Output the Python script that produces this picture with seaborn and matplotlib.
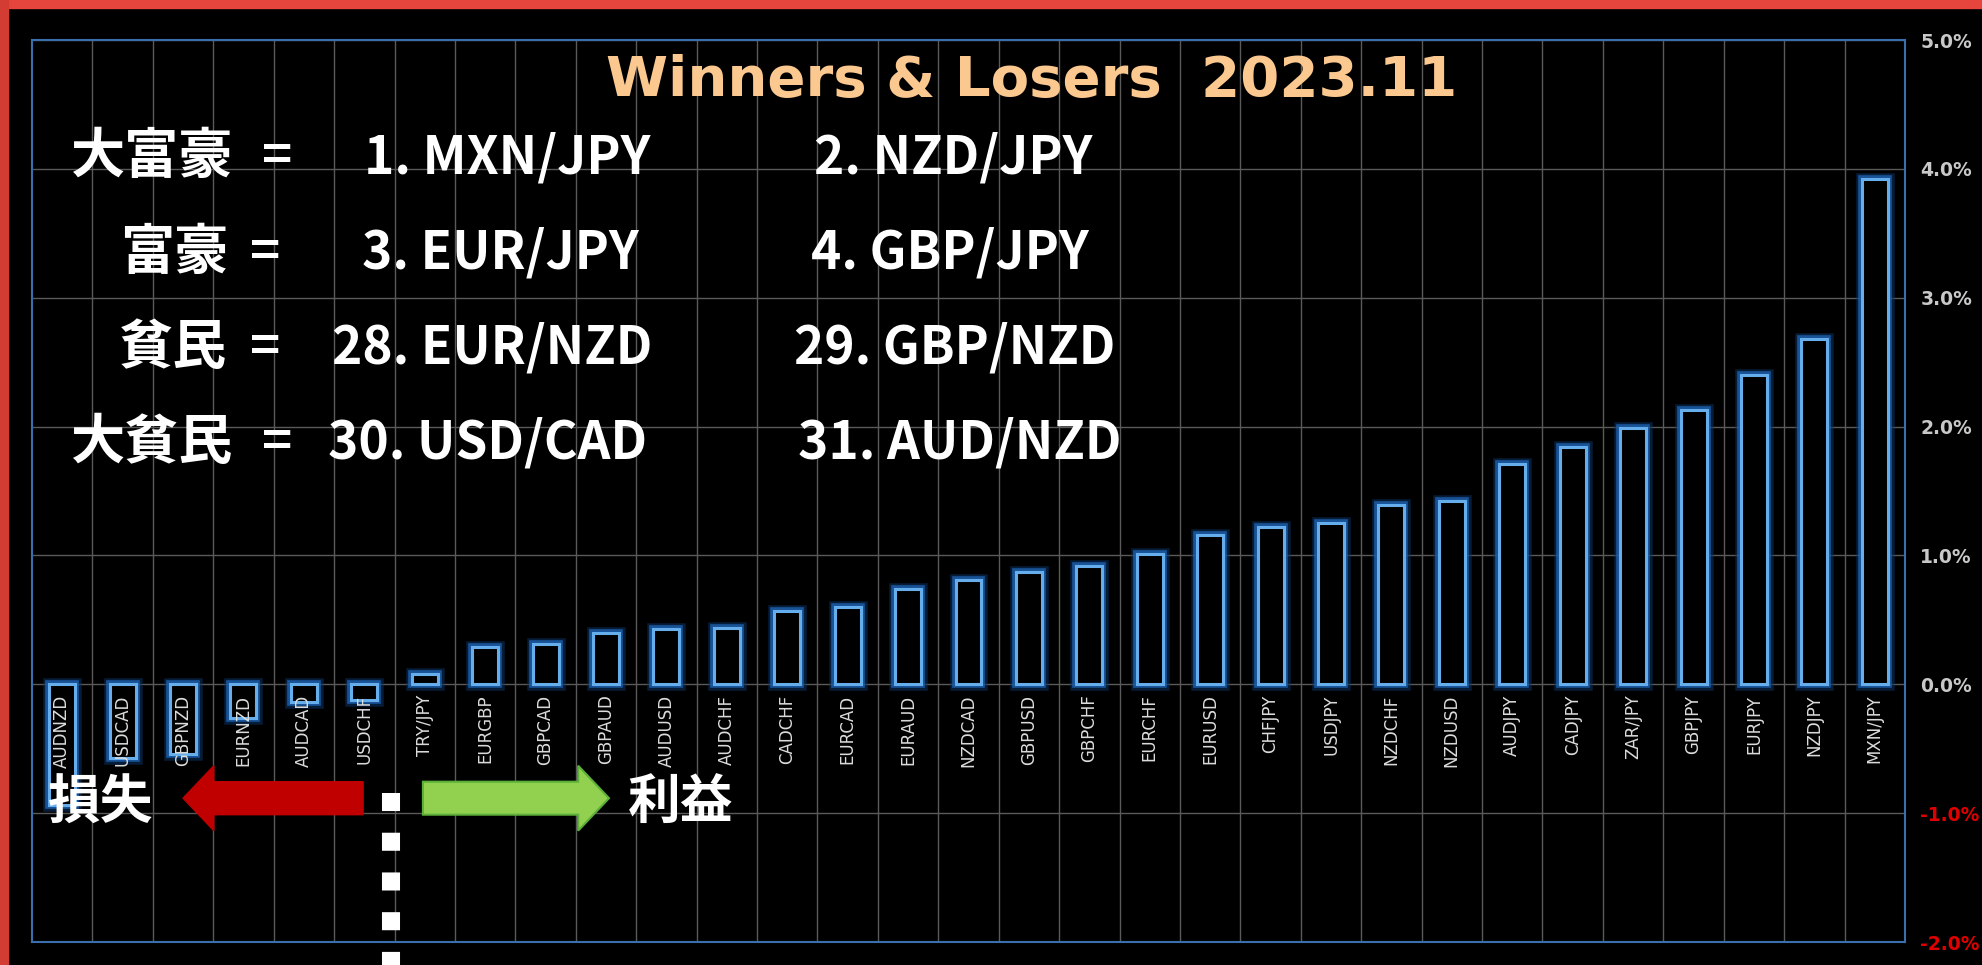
import numpy as np
import seaborn as sns
import matplotlib.pyplot as plt
import matplotlib.patches as mpatches
import matplotlib.patheffects as pe
from matplotlib.ticker import FuncFormatter

# monthly change of each pair (%), sorted low -> high
pairs = ["AUDNZD", "USDCAD", "GBPNZD", "EURNZD", "AUDCAD", "USDCHF", "TRY/JPY",
         "EURGBP", "GBPCAD", "GBPAUD", "AUDUSD", "AUDCHF", "CADCHF", "EURCAD",
         "EURAUD", "NZDCAD", "GBPUSD", "GBPCHF", "EURCHF", "EURUSD", "CHFJPY",
         "USDJPY", "NZDCHF", "NZDUSD", "AUDJPY", "CADJPY", "ZAR/JPY", "GBPJPY",
         "EURJPY", "NZDJPY", "MXN/JPY"]
changes = [-0.94, -0.57, -0.54, -0.26, -0.14, -0.12, 0.08,
           0.29, 0.31, 0.40, 0.43, 0.44, 0.57, 0.60,
           0.74, 0.81, 0.87, 0.92, 1.01, 1.16, 1.22,
           1.25, 1.39, 1.42, 1.71, 1.84, 1.99, 2.13,
           2.40, 2.68, 3.92]
yticks = [-2, -1, 0, 1, 2, 3, 4, 5]

title = "Winners & Losers  2023.11"
rank_names = ["大富豪", "富豪", "貧民", "大貧民"]
rank_first = ["1. MXN/JPY", "3. EUR/JPY", "28. EUR/NZD", "30. USD/CAD"]
rank_second = ["2. NZD/JPY", "4. GBP/JPY", "29. GBP/NZD", "31. AUD/NZD"]

W, H = 1982, 965

sns.set_style("dark")
plt.rcParams['font.family'] = ['Noto Sans CJK JP', 'DejaVu Sans']

fig = plt.figure(figsize=(W / 100, H / 100), dpi=100, facecolor="black")
ax = fig.add_axes([32 / W, 1 - 942 / H, (1905 - 32) / W, (942 - 40) / H])
ax.set_facecolor("black")

sns.barplot(x=pairs, y=changes, order=pairs, width=0.43, ax=ax, zorder=3)

# hollow glowing bars
glow = [pe.Stroke(linewidth=9, foreground="#0b3466", alpha=0.55),
        pe.Stroke(linewidth=5.5, foreground="#1d62b0", alpha=0.8),
        pe.Normal()]
for bar in ax.patches:
    bar.set_facecolor("black")
    bar.set_edgecolor("#66adec")
    bar.set_linewidth(2.2)
    bar.set_path_effects(glow)

ax.set_xlim(-0.5, len(pairs) - 0.5)
ax.set_ylim(-2, 5)

# grid
ax.set_axisbelow(True)
ax.set_yticks(yticks)
ax.yaxis.grid(True, color="#5a5a5a", lw=1)
ax.set_xticks(np.arange(0.5, len(pairs) - 1, 1), minor=True)
ax.xaxis.grid(True, which="minor", color="#5a5a5a", lw=1)
ax.xaxis.grid(False, which="major")
ax.tick_params(axis="x", which="both", length=0, labelbottom=False)
ax.set_xlabel("")

for s in ax.spines.values():
    s.set_visible(True)
    s.set_color("#3a6fae")
    s.set_linewidth(1.5)

# right-hand percent axis
ax.yaxis.tick_right()
ax.yaxis.set_major_formatter(FuncFormatter(lambda v, p: f"{v:.1f}%"))
ax.tick_params(axis="y", length=0, pad=11)
for lab, v in zip(ax.get_yticklabels(), yticks):
    lab.set_family("DejaVu Sans")
    lab.set_fontsize(13.5)
    lab.set_fontweight("bold")
    lab.set_color("#e00000" if v < 0 else "#c8c8c8")

# pair names under the zero line
for i, p in enumerate(pairs):
    ax.text(i, -0.08, p, rotation=90, ha="center", va="top", color="#dcdcdc",
            fontsize=12, family="DejaVu Sans", zorder=5)

# loss / profit arrows
ax.add_patch(mpatches.FancyArrow(4.98, -0.884, 2.0 - 4.98, 0, width=0.256,
                                 head_width=0.504, head_length=0.51,
                                 length_includes_head=True, fc="#c00000",
                                 ec="#c00000", zorder=6))
ax.add_patch(mpatches.FancyArrow(5.97, -0.884, 9.05 - 5.97, 0, width=0.256,
                                 head_width=0.504, head_length=0.51,
                                 length_includes_head=True, fc="#92d050",
                                 ec="#5cb038", lw=1.5, zorder=6))
ax.plot([5.45, 5.45], [-0.84, -2.3], color="white", lw=13,
        linestyle=(0, (1.0, 1.2)), dash_capstyle="butt", clip_on=False, zorder=6)

fig.text(48 / W, 1 - 803 / H, "損失", fontsize=38, weight="bold", color="white",
         ha="left", va="center")
fig.text(628 / W, 1 - 803 / H, "利益", fontsize=38, weight="bold", color="white",
         ha="left", va="center")

# title and ranking text
fig.text(1032 / W, 1 - 81 / H, title, ha="center", va="center", fontsize=40.5,
         weight="bold", color="#fbc890", family="DejaVu Sans")

row_y = [158, 253, 348, 443]
name_x = [71, 120, 119, 71]
eq_x = [262, 250, 250, 262]
first_x = [364, 362, 332, 328]
second_x = [814, 811, 794, 798]
for k in range(4):
    y = 1 - row_y[k] / H
    fig.text(name_x[k] / W, y, rank_names[k], fontsize=39, weight="bold",
             color="white", ha="left", va="center")
    fig.text(eq_x[k] / W, y, "=", fontsize=37, weight="bold",
             color="white", ha="left", va="center")
    fig.text(first_x[k] / W, y, rank_first[k], fontsize=37, weight="bold",
             color="white", ha="left", va="center")
    fig.text(second_x[k] / W, y, rank_second[k], fontsize=37, weight="bold",
             color="white", ha="left", va="center")

# red frame of the slide
fig.patches.append(mpatches.Rectangle((0, 1 - 8 / H), 1, 8 / H,
                                      transform=fig.transFigure, color="#e5453c"))
fig.patches.append(mpatches.Rectangle((0, 0), 8 / W, 1,
                                      transform=fig.transFigure, color="#d23c32"))

fig.savefig("out.png", dpi=100, facecolor="black")
